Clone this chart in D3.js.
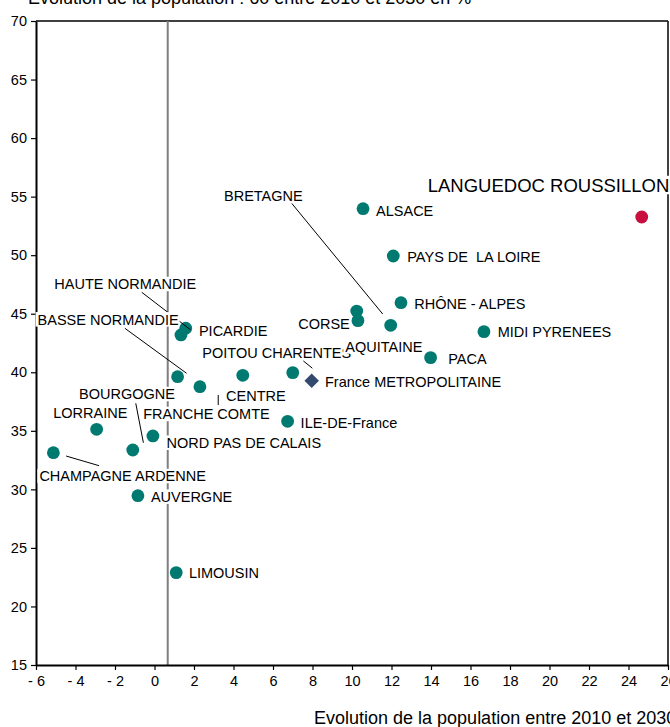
<!DOCTYPE html>
<html><head><meta charset="utf-8">
<script src="https://cdn.jsdelivr.net/npm/d3@7"></script>
<style>
html,body{margin:0;padding:0;background:#fff;overflow:hidden}
svg{display:block;font-family:"Liberation Sans",Arial,sans-serif}
text{white-space:pre}
</style></head>
<body><svg id="c" width="670" height="727"></svg>
<script>
// ---- data ----
const regions = ["ALSACE","LANGUEDOC ROUSSILLON","PAYS DE  LA LOIRE","RHÔNE - ALPES","AQUITAINE","CORSE","BRETAGNE","MIDI PYRENEES","PACA","POITOU CHARENTES","CENTRE","FRANCHE COMTE","BASSE NORMANDIE","HAUTE NORMANDIE","PICARDIE","ILE-DE-France","LORRAINE","NORD PAS DE CALAIS","BOURGOGNE","CHAMPAGNE ARDENNE","AUVERGNE","LIMOUSIN","France METROPOLITAINE"];
const evolTotal = [10.56,24.67,12.09,12.48,10.24,10.30,11.96,16.68,13.98,7.00,4.47,2.30,1.17,1.58,1.34,6.74,-2.93,-0.08,-1.10,-5.12,-0.84,1.10,7.96];
const evol60 = [53.97,53.26,49.93,45.94,45.23,44.41,44.01,43.47,41.25,39.97,39.74,38.77,39.62,43.76,43.19,35.81,35.13,34.56,33.36,33.13,29.46,22.89,39.28];
const kinds = ["r","hl","r","r","r","r","r","r","r","r","r","r","r","r","r","r","r","r","r","r","r","r","fr"];
const xTicks = [-6,-4,-2,0,2,4,6,8,10,12,14,16,18,20,22,24,26];
const yTicks = [15,20,25,30,35,40,45,50,55,60,65,70];
const refX = 0.67;
const titleText = "Evolution de la population : 60 entre 2010 et 2030 en %";
const xTitle = "Evolution de la population entre 2010 et 2030 en %";

// ---- layout (label offsets from marker, px) ----
const labelPos = {
  "ALSACE":[13,2.3],"LANGUEDOC ROUSSILLON":[-214,-32],"PAYS DE  LA LOIRE":[14,0.7],"RHÔNE - ALPES":[13.3,0.6],
  "AQUITAINE":[-11.5,35.5],"CORSE":[-59.7,3.3],"BRETAGNE":[-166.7,-129.3],"MIDI PYRENEES":[13.7,0.6],"PACA":[17.6,1.6],
  "POITOU CHARENTES":[-90.4,-20],"CENTRE":[-16.7,20.7],"FRANCHE COMTE":[-56.7,27.3],"BASSE NORMANDIE":[-140,-57.4],
  "HAUTE NORMANDIE":[-131.4,-44.3],"PICARDIE":[18,-4.3],"ILE-DE-France":[13,1.4],"LORRAINE":[-43.4,-17],
  "NORD PAS DE CALAIS":[13.7,6.7],"BOURGOGNE":[-53.7,-56],"CHAMPAGNE ARDENNE":[-14,23.3],"AUVERGNE":[13,1],
  "LIMOUSIN":[12.7,0.6],"France METROPOLITAINE":[13.3,1]
};
const leaders = {
  "BRETAGNE":[-99,-122,-8,-11.3],
  "POITOU CHARENTES":[10.6,-11.7,19.6,-4.4],
  "FRANCHE COMTE":[18.3,8.3,18.3,18.3],
  "BASSE NORMANDIE":[-52.7,-48.4,9,-3.4],
  "HAUTE NORMANDIE":[-44,-36,5,1.7],
  "BOURGOGNE":[3,-46.7,10.6,-7.3],
  "CHAMPAGNE ARDENNE":[12.7,3.3,45.7,13]
};

const L=36,R=668,T=21,B=665;
const svg=d3.select("#c");
const x=d3.scaleLinear().domain([-6,26]).range([L,R]);
const y=d3.scaleLinear().domain([15,70]).range([B,T]);

// title (clipped at top)
svg.append("text").attr("x",28).attr("y",4).attr("font-size",18).attr("fill","#000").text(titleText);

// frame top/right
svg.append("line").attr("x1",L).attr("x2",R).attr("y1",T).attr("y2",T).attr("stroke","#000").attr("stroke-width",1.5);
svg.append("line").attr("x1",R).attr("x2",R).attr("y1",T).attr("y2",B).attr("stroke","#000").attr("stroke-width",1.5);

// reference vertical line
svg.append("line").attr("x1",x(refX)).attr("x2",x(refX)).attr("y1",T).attr("y2",B).attr("stroke","#7f7f7f").attr("stroke-width",2);

// axes
const fmtX=d=>d<0?"- "+Math.abs(d):String(d);
const gx=svg.append("g").attr("transform",`translate(0,${B})`)
  .call(d3.axisBottom(x).tickValues(xTicks).tickFormat(fmtX).tickSize(5).tickPadding(6).tickSizeOuter(0));
const gy=svg.append("g").attr("transform",`translate(${L},0)`)
  .call(d3.axisLeft(y).tickValues(yTicks).tickSize(5).tickPadding(4).tickSizeOuter(0));
[gx,gy].forEach(g=>{
  g.select(".domain").attr("stroke","#000").attr("stroke-width",2);
  g.selectAll(".tick line").attr("stroke","#000").attr("stroke-width",1.2);
  g.selectAll(".tick text").attr("font-size",14.5).attr("fill","#000").attr("font-family","Liberation Sans, Arial, sans-serif");
});
svg.append("text").attr("x",314).attr("y",724).attr("font-size",18).attr("fill","#000").text(xTitle);

// data
const pts=regions.map((n,i)=>({name:n,x:evolTotal[i],y:evol60[i],kind:kinds[i]}));

// markers
pts.filter(d=>d.kind!=="fr").forEach(d=>{
  svg.append("circle").attr("cx",x(d.x)).attr("cy",y(d.y)).attr("r",6.4)
    .attr("fill",d.kind==="hl"?"#C8103E":"#007A70");
});
pts.filter(d=>d.kind==="fr").forEach(d=>{
  svg.append("path").attr("d",d3.symbol(d3.symbolSquare,105)())
    .attr("transform",`translate(${x(d.x)},${y(d.y)}) rotate(45)`).attr("fill","#34496E");
});

// leader lines
pts.forEach(d=>{
  const l=leaders[d.name]; if(!l) return;
  const px=x(d.x),py=y(d.y);
  svg.append("line").attr("x1",px+l[0]).attr("y1",py+l[1]).attr("x2",px+l[2]).attr("y2",py+l[3])
    .attr("stroke","#000").attr("stroke-width",1);
});

// labels with white backgrounds
const order=["HAUTE NORMANDIE","PICARDIE","POITOU CHARENTES"];
const sorted=pts.slice().sort((a,b)=>(order.indexOf(b.name)>=0)-(order.indexOf(a.name)>=0));
sorted.forEach(d=>{
  const p=labelPos[d.name]; if(!p) return;
  const fs=d.kind==="hl"?18.5:14.5;
  const lx=x(d.x)+p[0], cy=y(d.y)+p[1];
  const g=svg.append("g");
  const r=g.append("rect").attr("fill","#fff");
  const t=g.append("text").attr("x",lx).attr("y",cy+0.36*fs).attr("font-size",fs).attr("fill","#000").text(d.name);
  const w=t.node().getComputedTextLength();
  r.attr("x",lx-2).attr("y",cy-fs*0.5).attr("width",w+3).attr("height",fs);
});
</script></body></html>
